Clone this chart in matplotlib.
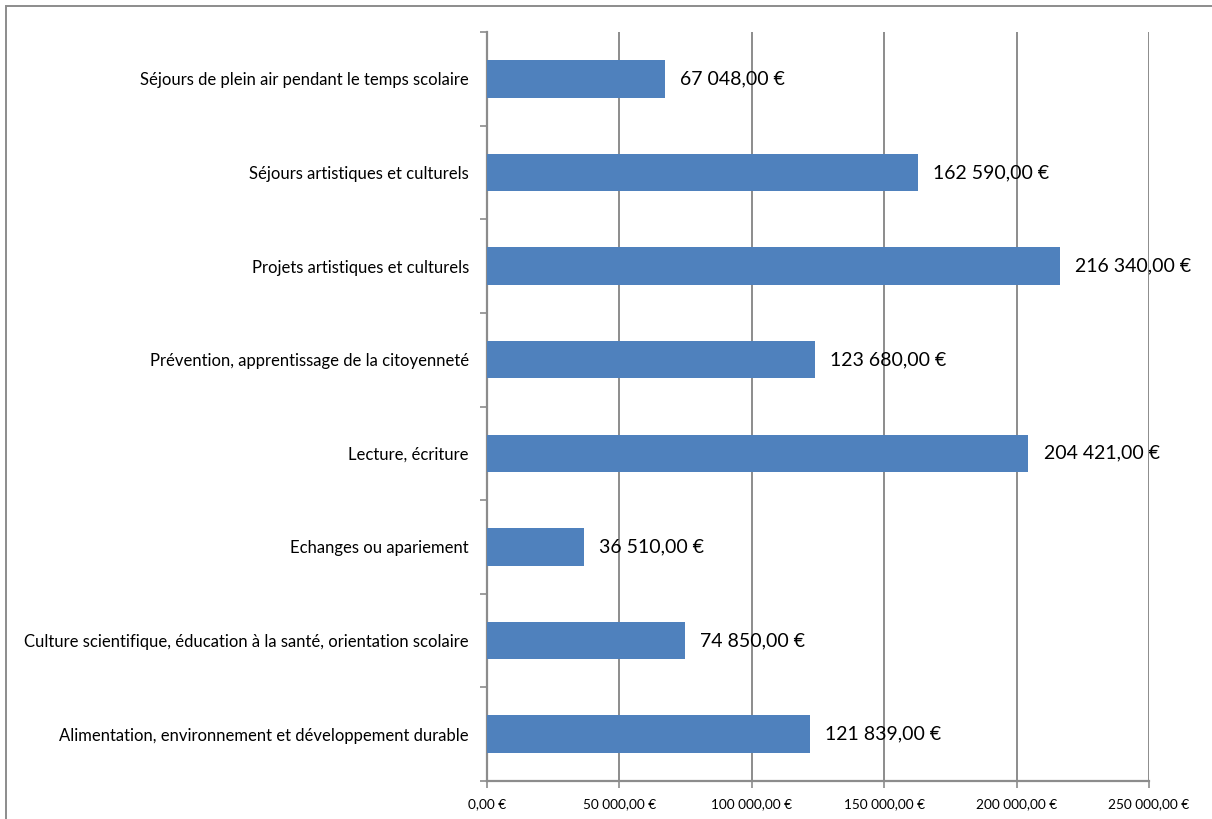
import matplotlib.pyplot as plt
import matplotlib.ticker as mticker
import numpy as np

# Montants par type de projet (de bas en haut)
categories = [
    "Alimentation, environnement et développement durable",
    "Culture scientifique, éducation à la santé, orientation scolaire",
    "Echanges ou apariement",
    "Lecture, écriture",
    "Prévention, apprentissage de la citoyenneté",
    "Projets artistiques et culturels",
    "Séjours artistiques et culturels",
    "Séjours de plein air pendant le temps scolaire",
]
amounts = [121839.00, 74850.00, 36510.00, 204421.00, 123680.00, 216340.00, 162590.00, 67048.00]
x_ticks = [0, 50000, 100000, 150000, 200000, 250000]


def euro(v, pos=None):
    s = f"{v:,.2f}".replace(",", " ").replace(".", ",")
    return s + " €"


plt.rcParams['font.family'] = ['Lato', 'DejaVu Sans']

W, H = 1212, 819
fig = plt.figure(figsize=(W / 100, H / 100), dpi=100)
ax = fig.add_axes([487 / W, 1 - 781 / H, (1149 - 487) / W, (781 - 32) / H])

grey = '#8c8c8c'
y = np.arange(len(categories))
ax.barh(y, amounts, height=0.4, color='#4f81bd', zorder=3)

ax.set_xlim(0, 250000)
ax.set_ylim(-0.5, len(categories) - 0.5)

for yi, v in zip(y, amounts):
    ax.annotate(euro(v), (v, yi), xytext=(11, 0), textcoords='offset points',
                va='center', ha='left', fontsize=14, zorder=1)

ax.set_xticks(x_ticks)
ax.xaxis.set_major_formatter(mticker.FuncFormatter(euro))
ax.grid(axis='x', color=grey, linewidth=1.4)
ax.set_axisbelow(True)

# étiquettes de catégorie au centre, tirets aux séparations
ax.set_yticks(np.arange(len(categories) + 1) - 0.5)
ax.set_yticklabels([])
ax.set_yticks(y, minor=True)
ax.set_yticklabels(categories, minor=True, fontsize=12)
ax.tick_params(axis='y', which='minor', length=0, pad=13)
ax.tick_params(axis='y', which='major', length=5, color=grey, width=1.2)
ax.tick_params(axis='x', length=5, color=grey, width=1.2, labelsize=9.8, pad=7)

for side in ['top', 'right']:
    ax.spines[side].set_visible(False)
for side in ['left', 'bottom']:
    ax.spines[side].set_color(grey)
    ax.spines[side].set_linewidth(1.6)

# cadre du graphique
frame = plt.Rectangle((6 / W, -0.05), 1.1, 1 - 6 / H + 0.05, transform=fig.transFigure,
                      fill=False, edgecolor=grey, linewidth=1.4, clip_on=False)
fig.patches.append(frame)

fig.savefig('out.png', dpi=100)
